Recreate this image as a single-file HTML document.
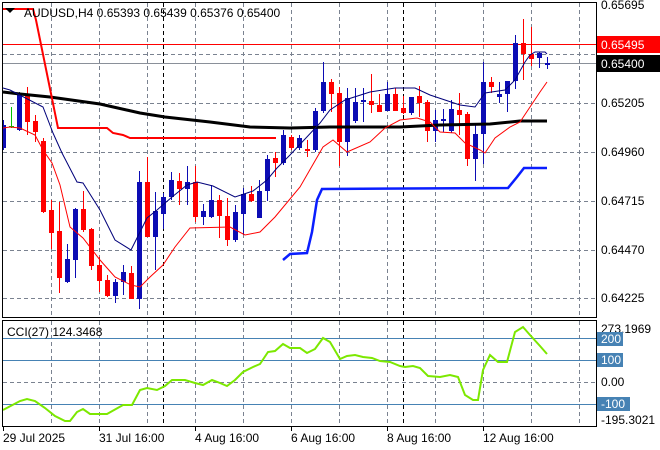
<!DOCTYPE html>
<html><head><meta charset="utf-8"><style>
body{margin:0;background:#fff;}
svg{display:block;font-family:"Liberation Sans",sans-serif;}
</style></head><body>
<svg id="s" width="660" height="450" viewBox="0 0 660 450" xmlns="http://www.w3.org/2000/svg">
<rect width="660" height="450" fill="#fff"/>
<g id="grid" stroke="#7a8290" stroke-dasharray="4,3" stroke-width="1"></g>
<line x1="3" y1="44.5" x2="596" y2="44.5" stroke="#ff0000"/>
<line x1="3" y1="63.5" x2="596" y2="63.5" stroke="#8a9099"/>
<g id="cndl"></g>
<polyline fill="none" stroke="#000" stroke-width="3" points="3,92 20,94 50,97 100,104 140,113 165,117 210,122 250,127 290,128 330,127 400,127 440,125 490,124 520,121 547,121"/>
<polyline fill="none" stroke="#ff0000" stroke-width="2" points="3,9 33,9 36,20 58,128 107,128 113,133 123,135 130,138 276,138"/>
<polyline fill="none" stroke="#0a1eff" stroke-width="2.5" points="283,260 290,254 307,253 312,232 317,200 322,189 508,188 517,177 524,168 547,168"/>
<polyline fill="none" stroke="#00007a" stroke-width="1" points="3,88 10,90 43,107 53,133 62,153 77,182 83,183 100,210 115,240 131,250 137,238 147,218 157,210 172,197 187,185 197,182 213,186 235,197 253,191 267,180 277,168 290,155 320,123 330,110 345,100 370,92 395,88 415,88 430,95 445,100 460,105 475,107 485,93 505,90 515,80 525,62 530,55 535,52 545,52 547,54"/>
<polyline fill="none" stroke="#ff0000" stroke-width="1" points="3,128 10,127 20,128 35,135 43,150 52,163 60,185 70,227 83,238 100,260 115,277 131,285 140,287 150,277 163,265 175,247 190,228 230,227 245,235 260,232 275,217 300,187 323,147 333,140 347,152 370,142 385,128 400,120 417,118 430,122 440,132 455,133 465,143 480,150 485,153 495,138 510,127 520,122 530,107 540,92 547,82"/>
<!-- CCI -->
<line x1="3" y1="338.5" x2="596" y2="338.5" stroke="#4682b4"/>
<line x1="3" y1="360.5" x2="596" y2="360.5" stroke="#4682b4"/>
<line x1="3" y1="404.5" x2="596" y2="404.5" stroke="#4682b4"/>
<line x1="3" y1="382.5" x2="596" y2="382.5" stroke="#7a8290" stroke-dasharray="4,3"/>
<polyline fill="none" stroke="#7ce800" stroke-width="2" points="3,410 20,401 27,399 35,401 45,408 55,416 65,421 70,421 77,412 83,409 90,414 107,414 123,405 132,405 140,390 147,388 157,390 165,386 172,380 185,380 195,383 203,385 212,380 220,383 227,386 235,380 243,372 253,367 260,364 268,352 275,351 283,344 290,348 300,348 307,353 315,349 323,338 330,342 340,359 347,356 355,355 363,357 372,358 380,361 390,362 400,366 405,367 413,366 420,368 428,376 440,377 450,375 458,377 465,395 473,400 478,400 483,370 490,355 498,362 507,362 515,332 523,327 530,335 540,346 547,354"/>
<!-- frames -->
<rect x="2.5" y="2.5" width="594" height="315" fill="none" stroke="#000"/>
<rect x="2.5" y="320.5" width="594" height="106" fill="none" stroke="#000"/>
<g font-size="12" fill="#000">
<text x="24" y="17" font-size="12">AUDUSD,H4  0.65393 0.65439 0.65376 0.65400</text>
<path d="M5,8 L15,8 L10,13 Z" fill="#000"/>
<text x="7" y="336">CCI(27) 124.3468</text>
<g id="ax"></g>
</g>
<rect x="597" y="36" width="63" height="17" fill="#ff0000"/>
<text x="601" y="49" font-size="12" fill="#fff">0.65495</text>
<rect x="597" y="55" width="63" height="17" fill="#000"/>
<text x="601" y="68" font-size="12" fill="#fff">0.65400</text>
</svg>
<script>
var NS="http://www.w3.org/2000/svg";
function el(p,t,a,txt){var e=document.createElementNS(NS,t);for(var k in a)e.setAttribute(k,a[k]);if(txt!=null)e.textContent=txt;p.appendChild(e);return e;}
var g=document.getElementById('grid');
[54,103,152,201,250,298].forEach(function(y){el(g,'line',{x1:3,y1:y+.5,x2:596,y2:y+.5});});
for(var x=51;x<596;x+=48){el(g,'line',{x1:x+.5,y1:3,x2:x+.5,y2:317});el(g,'line',{x1:x+.5,y1:321,x2:x+.5,y2:426});}
[163,403].forEach(function(x){el(g,'line',{x1:x+.5,y1:3,x2:x+.5,y2:317,stroke:'#000'});el(g,'line',{x1:x+.5,y1:321,x2:x+.5,y2:426,stroke:'#000'});});
// candles: [top, bottom, high, low, color]
var C=[[125,148,120,150,'b'],[126,127,107,128,'g'],[94,130,92,131,'b'],[94,122,87,135,'r'],[121,132,115,142,'r'],[141,212,138,213,'r'],[210,233,200,249,'r'],[231,278,202,293,'r'],[259,282,244,283,'b'],[209,260,208,278,'b'],[209,230,191,232,'r'],[229,266,228,270,'r'],[265,281,257,292,'r'],[280,296,275,297,'r'],[282,296,279,303,'b'],[272,282,265,295,'b'],[273,299,266,299,'r'],[182,299,171,309,'b'],[182,237,157,237,'r'],[211,237,192,270,'b'],[197,214,193,229,'b'],[180,197,172,200,'b'],[181,189,173,205,'r'],[182,189,166,205,'b'],[182,217,166,222,'r'],[211,217,204,225,'b'],[200,217,185,218,'b'],[200,216,195,238,'r'],[216,240,198,246,'r'],[212,240,205,242,'b'],[194,214,188,235,'b'],[194,201,186,202,'r'],[191,218,180,218,'b'],[159,191,155,201,'b'],[158,163,152,177,'r'],[135,163,130,165,'b'],[137,148,135,150,'r'],[138,148,135,150,'b'],[149,151,140,157,'r'],[111,150,108,152,'b'],[82,111,62,113,'b'],[82,94,79,112,'r'],[93,142,87,166,'r'],[98,142,88,156,'b'],[102,121,88,123,'b'],[100,102,88,122,'b'],[101,105,74,113,'r'],[105,112,94,112,'r'],[94,111,82,111,'b'],[94,111,88,111,'r'],[108,113,96,114,'r'],[97,113,97,115,'b'],[96,103,86,117,'r'],[102,131,100,142,'r'],[120,131,110,142,'b'],[119,121,109,132,'b'],[109,131,100,133,'b'],[110,115,93,135,'r'],[114,159,112,166,'r'],[134,159,124,181,'b'],[82,134,62,164,'b'],[82,87,77,93,'r'],[94,97,82,103,'b'],[81,94,81,112,'b'],[43,81,35,89,'b'],[43,54,19,80,'r'],[54,59,27,66,'r'],[53,58,52,68,'b'],[63,65,57,69,'b']];
var cg=document.getElementById('cndl');
C.forEach(function(c,i){var x=3+8*i;var col=c[4]=='b'?'#0c0cb4':(c[4]=='r'?'#ff0000':'#00c000');
if(x<3)return;
el(cg,'line',{x1:x+.5,y1:c[2],x2:x+.5,y2:c[3],stroke:col});
var h=Math.max(1,c[1]-c[0]);var bx=Math.max(3,x-2);el(cg,'rect',{x:bx,y:c[0],width:x+3-bx,height:h,fill:col});});
var ax=document.getElementById('ax');
[['0.65695',5],['0.65205',103],['0.64960',152],['0.64715',201],['0.64470',250],['0.64225',298]].forEach(function(a){el(ax,'text',{x:601,y:a[1]+4},a[0]);});
el(ax,'text',{x:601,y:333},'273.1969');
[['200',339],['100',360],['-100',404]].forEach(function(a){el(ax,'rect',{x:597,y:a[1]-7,width:a[0].length*7+5,height:14,fill:'#4682b4'});el(ax,'text',{x:601,y:a[1]+4,fill:'#fff'},a[0]);});
el(ax,'text',{x:601,y:386},'0.00');
el(ax,'text',{x:601,y:424},'-195.3021');
[['29 Jul 2025',3],['31 Jul 16:00',99],['4 Aug 16:00',195],['6 Aug 16:00',291],['8 Aug 16:00',387],['12 Aug 16:00',483]].forEach(function(a){el(ax,'text',{x:a[1],y:442},a[0]);el(ax,'line',{x1:a[1]+.5,y1:427,x2:a[1]+.5,y2:431,stroke:'#000'});});
</script>
</body></html>
